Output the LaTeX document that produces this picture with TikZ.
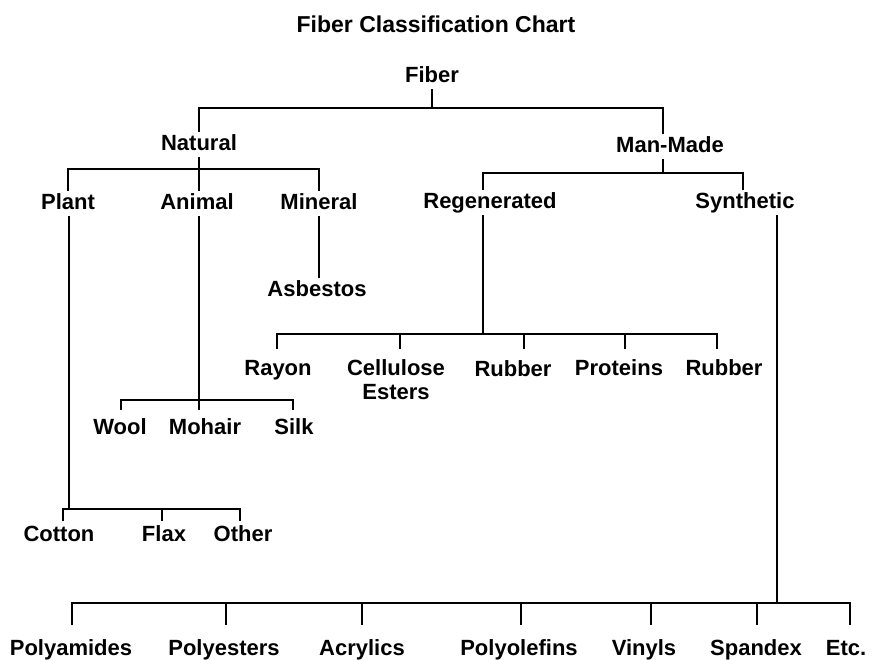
\documentclass[tikz,border=0pt]{standalone}
\usepackage{fontspec}
\setsansfont{Liberation Sans}
\usepackage{tikz}
\usetikzlibrary{calc, positioning}
\newcommand{\tagfont}{\sffamily\bfseries\fontsize{22}{24}\selectfont}
\begin{document}
\begin{tikzpicture}[x=1pt, y=-1pt,
    tag/.style={font=\tagfont, inner xsep=1pt, inner ysep=2.5pt, text height=17pt, text depth=4pt, anchor=base},
    twoline/.style={font=\tagfont, align=center, inner sep=0pt, anchor=north},
    branch/.style={line width=2pt, line cap=rect}]
        \useasboundingbox (0,0) rectangle (873,660);

        % Title
        \node[tag, font=\sffamily\bfseries\fontsize{23}{26}\selectfont] (title) at (436,33) {Fiber Classification Chart};

        % Labels
        \node[tag] (fiber) at (432,83) {Fiber};
        \node[tag] (natural) at (199,151) {Natural};
        \node[tag] (manmade) at (670,153) {Man-Made};
        \node[tag] (plant) at (68,210) {Plant};
        \node[tag] (animal) at (197,210) {Animal};
        \node[tag] (mineral) at (319,210) {Mineral};
        \node[tag] (regen) at (490,209) {Regenerated};
        \node[tag] (synth) at (745,209) {Synthetic};
        \node[tag] (asbestos) at (317,297) {Asbestos};
        \node[tag] (rayon) at (278,375) {Rayon};
        \node[twoline] (cellulose) at (396,359) {Cellulose\\Esters};
        \node[tag] (rubbera) at (513,376) {Rubber};
        \node[tag] (proteins) at (619,375) {Proteins};
        \node[tag] (rubberb) at (724,375) {Rubber};
        \node[tag] (wool) at (120,434) {Wool};
        \node[tag] (mohair) at (205,434) {Mohair};
        \node[tag] (silk) at (294,434) {Silk};
        \node[tag] (cotton) at (59,541) {Cotton};
        \node[tag] (flax) at (164,541) {Flax};
        \node[tag] (other) at (243,541) {Other};
        \node[tag] (polyamides) at (71,655) {Polyamides};
        \node[tag] (polyesters) at (224,655) {Polyesters};
        \node[tag] (acrylics) at (362,655) {Acrylics};
        \node[tag] (polyolefins) at (519,655) {Polyolefins};
        \node[tag] (vinyls) at (644,655) {Vinyls};
        \node[tag] (spandex) at (756,655) {Spandex};
        \node[tag] (etc) at (846,655) {Etc.};

        % Bar junctions
        \coordinate (fiberbar) at (432,108);
        \coordinate (natbar) at (199,169);
        \coordinate (mmbar) at (663,173);
        \coordinate (regbar) at (483,334);
        \coordinate (animbar) at (199,400);
        \coordinate (plantbar) at (69,509);
        \coordinate (synbar) at (777,603);

        % Fiber
        \draw[branch] (fiber.south) -- (fiberbar);
        \draw[branch] (natural.north) |- (fiberbar) -| ($(manmade.north)+(-7,0)$);

        % Natural
        \draw[branch] (natural.south) -- (natural.south |- animal.north);
        \draw[branch] (plant.north) |- (natbar) -| (mineral.north);
        \draw[branch] (mineral.south) -- (mineral.south |- asbestos.north);

        % Man-Made
        \draw[branch] ($(manmade.south)+(-7,0)$) -- (mmbar);
        \draw[branch] ($(regen.north)+(-7,0)$) |- (mmbar) -| ($(synth.north)+(-2,0)$);

        % Regenerated
        \draw[branch] ($(regen.south)+(-7,0)$) -- (regbar);
        \draw[branch] ($(rayon.north |- regbar)+(-1,0)$) -- ($(rubberb.north |- regbar)+(-7,0)$);
        \foreach \n/\dx in {rayon/-1, cellulose/4, rubbera/11, proteins/6, rubberb/-7} {
            \draw[branch] ($(\n.north |- regbar)+(\dx,0)$) -- ++(0,14);
        }

        % Animal
        \draw[branch] (animal.south -| animbar) -- ($(animbar)+(0,9)$);
        \draw[branch] ($(wool.north |- animbar)+(1,0)$) -- ($(silk.north |- animbar)+(-1,0)$);
        \foreach \n/\dx in {wool/1, silk/-1} {
            \draw[branch] ($(\n.north |- animbar)+(\dx,0)$) -- ++(0,9);
        }

        % Plant
        \draw[branch] (plant.south -| plantbar) -- (plantbar);
        \draw[branch] ($(cotton.north |- plantbar)+(4,0)$) -- ($(other.north |- plantbar)+(-3,0)$);
        \foreach \n/\dx in {cotton/4, flax/-2, other/-3} {
            \draw[branch] ($(\n.north |- plantbar)+(\dx,0)$) -- ++(0,11);
        }

        % Synthetic
        \draw[branch] ($(synth.south)+(32,0)$) -- (synbar);
        \draw[branch] ($(polyamides.north |- synbar)+(1,0)$) -- ($(etc.north |- synbar)+(4,0)$);
        \foreach \n/\dx in {polyamides/1, polyesters/2, acrylics/0, polyolefins/2, vinyls/7, spandex/1, etc/4} {
            \draw[branch] ($(\n.north |- synbar)+(\dx,0)$) -- ++(0,21);
        }
    \end{tikzpicture}
\end{document}
